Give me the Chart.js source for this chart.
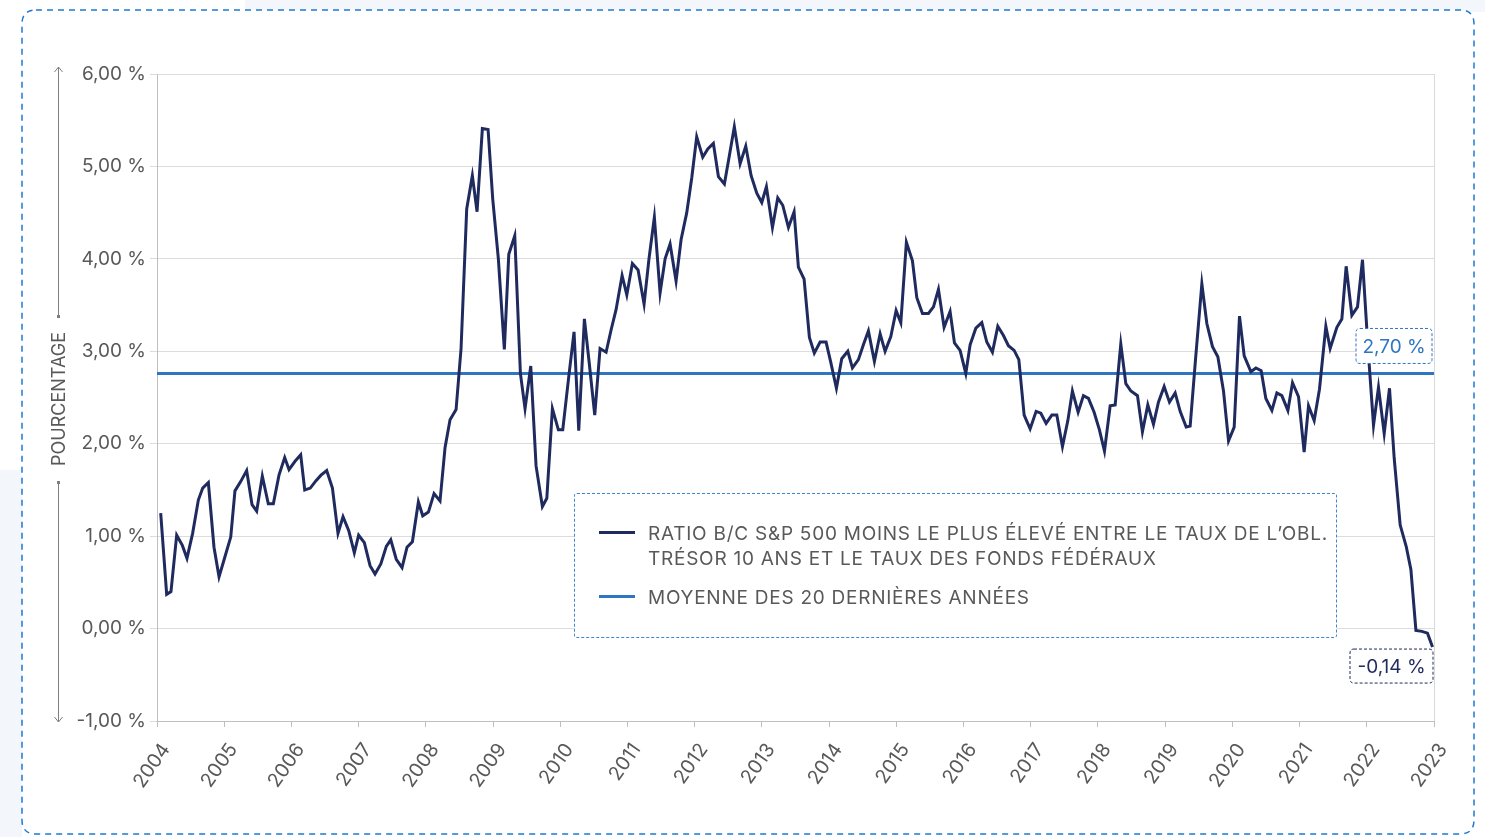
<!DOCTYPE html>
<html lang="fr">
<head>
<meta charset="utf-8">
<script src="https://cdn.jsdelivr.net/npm/chart.js@4/dist/chart.umd.min.js"></script>
<style>
  html, body { margin: 0; padding: 0; background: #fff; }
  body { width: 1485px; height: 837px; position: relative; overflow: hidden; font-family: Inter, "Open Sans", sans-serif; }
  #chart { position: absolute; left: 0; top: 0; }
  #legend {
    position: absolute; left: 574px; top: 493px; width: 763px; height: 145px;
    border: 1px dashed #3f86cf; border-radius: 3px; box-sizing: border-box; background: #fff;
  }
  #legend .sample { position: absolute; left: 24px; width: 36px; height: 3px; }
  #legend .txt { position: absolute; left: 73px; font-size: 19px; letter-spacing: 0.75px; line-height: 25px; color: #595959; white-space: nowrap; }
</style>
</head>
<body>
<canvas id="chart" width="1485" height="837"></canvas>
<div id="legend"></div>
<script>
// series, decimal year / value in %
const dates = [
  2004.055, 2004.144, 2004.208, 2004.293, 2004.377, 2004.446, 2004.530, 2004.615, 2004.680, 2004.764, 2004.848, 2004.923,
  2005.012, 2005.097, 2005.160, 2005.245, 2005.334, 2005.414, 2005.483, 2005.567, 2005.656, 2005.731, 2005.815, 2005.900, 2005.964,
  2006.054, 2006.138, 2006.198, 2006.281, 2006.366, 2006.440, 2006.525, 2006.610, 2006.693, 2006.768, 2006.853, 2006.936,
  2007.000, 2007.085, 2007.170, 2007.244, 2007.330, 2007.412, 2007.478, 2007.560, 2007.646, 2007.720, 2007.800, 2007.889, 2007.954,
  2008.038, 2008.122, 2008.211, 2008.286, 2008.360, 2008.450, 2008.524, 2008.608, 2008.692, 2008.762, 2008.841, 2008.926, 2008.995,
  2009.079, 2009.168, 2009.234, 2009.323, 2009.407, 2009.476, 2009.561, 2009.640, 2009.734, 2009.800, 2009.883, 2009.972,
  2010.037, 2010.121, 2010.205, 2010.275, 2010.359, 2010.433, 2010.513, 2010.592, 2010.682, 2010.756, 2010.830, 2010.920, 2010.990,
  2011.073, 2011.158, 2011.247, 2011.320, 2011.400, 2011.485, 2011.560, 2011.634, 2011.723, 2011.798, 2011.882, 2011.957,
  2012.030, 2012.120, 2012.195, 2012.278, 2012.353, 2012.442, 2012.517, 2012.590, 2012.676, 2012.760, 2012.840, 2012.924, 2012.998,
  2013.067, 2013.157, 2013.236, 2013.310, 2013.395, 2013.479, 2013.543, 2013.628, 2013.707, 2013.780, 2013.866, 2013.955,
  2014.025, 2014.109, 2014.188, 2014.278, 2014.347, 2014.436, 2014.510, 2014.585, 2014.674, 2014.759, 2014.833, 2014.918, 2014.997,
  2015.067, 2015.150, 2015.240, 2015.305, 2015.389, 2015.478, 2015.553, 2015.627, 2015.711, 2015.800, 2015.865, 2015.949,
  2016.034, 2016.098, 2016.183, 2016.272, 2016.346, 2016.430, 2016.510, 2016.594, 2016.668, 2016.753, 2016.823, 2016.902, 2016.991,
  2017.080, 2017.150, 2017.229, 2017.314, 2017.388, 2017.472, 2017.552, 2017.620, 2017.705, 2017.784, 2017.859, 2017.943,
  2018.022, 2018.097, 2018.182, 2018.256, 2018.340, 2018.415, 2018.490, 2018.588, 2018.662, 2018.742, 2018.826, 2018.900, 2018.985,
  2019.064, 2019.149, 2019.223, 2019.313, 2019.372, 2019.456, 2019.546, 2019.620, 2019.704, 2019.784, 2019.868, 2019.943,
  2020.027, 2020.106, 2020.176, 2020.275, 2020.350, 2020.429, 2020.498, 2020.588, 2020.662, 2020.736, 2020.826, 2020.895, 2020.984,
  2021.068, 2021.133, 2021.217, 2021.296, 2021.391, 2021.455, 2021.555, 2021.629, 2021.693, 2021.778, 2021.862, 2021.936,
  2022.016, 2022.100, 2022.174, 2022.259, 2022.338, 2022.408, 2022.497, 2022.586, 2022.656, 2022.731, 2022.820, 2022.903, 2022.978
];
const ratio = [
  1.25, 0.37, 0.40, 1.01, 0.90, 0.76, 1.03, 1.39, 1.52, 1.58, 0.88, 0.56,
  0.78, 0.99, 1.49, 1.59, 1.71, 1.34, 1.27, 1.65, 1.35, 1.35, 1.66, 1.85, 1.72,
  1.81, 1.88, 1.50, 1.52, 1.60, 1.66, 1.71, 1.52, 1.03, 1.21, 1.06, 0.82,
  1.01, 0.93, 0.68, 0.59, 0.70, 0.89, 0.96, 0.75, 0.66, 0.88, 0.94, 1.37, 1.22,
  1.26, 1.46, 1.38, 1.96, 2.26, 2.37, 3.03, 4.54, 4.90, 4.51, 5.41, 5.40, 4.65,
  4.00, 3.02, 4.05, 4.25, 2.76, 2.38, 2.84, 1.76, 1.32, 1.41, 2.38, 2.15,
  2.15, 2.69, 3.21, 2.14, 3.35, 2.86, 2.31, 3.03, 2.99, 3.23, 3.45, 3.82, 3.61,
  3.95, 3.88, 3.51, 4.00, 4.45, 3.63, 4.00, 4.16, 3.76, 4.21, 4.50, 4.88,
  5.32, 5.10, 5.19, 5.25, 4.89, 4.81, 5.12, 5.43, 5.03, 5.22, 4.90, 4.71, 4.61,
  4.78, 4.34, 4.66, 4.58, 4.34, 4.51, 3.91, 3.78, 3.15, 2.98, 3.10, 3.10,
  2.88, 2.60, 2.92, 3.00, 2.82, 2.91, 3.07, 3.22, 2.89, 3.19, 3.00, 3.16, 3.44,
  3.31, 4.18, 3.98, 3.58, 3.41, 3.41, 3.48, 3.67, 3.26, 3.43, 3.09, 3.01,
  2.76, 3.07, 3.25, 3.31, 3.10, 2.99, 3.27, 3.17, 3.06, 3.01, 2.91, 2.31, 2.16,
  2.35, 2.33, 2.22, 2.31, 2.31, 1.97, 2.25, 2.57, 2.34, 2.52, 2.49, 2.34,
  2.15, 1.92, 2.41, 2.42, 3.08, 2.65, 2.57, 2.52, 2.13, 2.42, 2.21, 2.45, 2.62,
  2.45, 2.55, 2.35, 2.18, 2.19, 2.95, 3.73, 3.30, 3.05, 2.94, 2.57, 2.03,
  2.18, 3.38, 2.95, 2.78, 2.82, 2.79, 2.49, 2.36, 2.55, 2.52, 2.36, 2.66, 2.51,
  1.91, 2.41, 2.25, 2.59, 3.27, 3.03, 3.26, 3.35, 3.92, 3.39, 3.48, 3.99,
  3.06, 2.20, 2.61, 2.11, 2.60, 1.84, 1.12, 0.89, 0.64, -0.02, -0.03, -0.05, -0.20
];
const meanValue = 2.76;
const meanLabel = "2,70 %";
const lastLabel = "-0,14 %";
const seriesLabels = [
  ["RATIO B/C S&P 500 MOINS LE PLUS ÉLEVÉ ENTRE LE TAUX DE L’OBL.", "TRÉSOR 10 ANS ET LE TAUX DES FONDS FÉDÉRAUX"],
  ["MOYENNE DES 20 DERNIÈRES ANNÉES"]
];
const yTitle = "POURCENTAGE";
const xMin = 2004, xMax = 2023;
const yMin = -1, yMax = 6;

const NAVY = "#1f2a5e";
const BLUE = "#2e75c2";
const GREY = "#595959";
const FONT = 'Inter, "Open Sans", sans-serif';

// legend (html)
const legend = document.getElementById("legend");
[[NAVY, 37, 27], [BLUE, 101, 91]].forEach((c, i) => {
  const s = document.createElement("div");
  s.className = "sample";
  s.style.top = c[1] + "px";
  s.style.background = c[0];
  legend.appendChild(s);
  const t = document.createElement("div");
  t.className = "txt";
  t.style.top = c[2] + "px";
  t.innerHTML = seriesLabels[i].join("<br>");
  legend.appendChild(t);
});

function roundRect(ctx, x, y, w, h, r) {
  ctx.beginPath();
  ctx.moveTo(x + r, y);
  ctx.lineTo(x + w - r, y);
  ctx.quadraticCurveTo(x + w, y, x + w, y + r);
  ctx.lineTo(x + w, y + h - r);
  ctx.quadraticCurveTo(x + w, y + h, x + w - r, y + h);
  ctx.lineTo(x + r, y + h);
  ctx.quadraticCurveTo(x, y + h, x, y + h - r);
  ctx.lineTo(x, y + r);
  ctx.quadraticCurveTo(x, y, x + r, y);
  ctx.closePath();
}

const framePlugin = {
  id: "frame",
  beforeDraw(chart) {
    const ctx = chart.ctx;
    ctx.save();
    // pale backdrop outside the card
    ctx.fillStyle = "#f3f6fb";
    ctx.fillRect(245, 0, 1240, 12);
    ctx.fillRect(0, 470, 22, 367);
    roundRect(ctx, 22, 10, 1452, 824, 14);
    ctx.fillStyle = "#fff";
    ctx.fill();
    ctx.setLineDash([6, 5]);
    ctx.lineWidth = 1.5;
    ctx.strokeStyle = "#1f7ad4";
    ctx.stroke();
    ctx.restore();
  },
  afterDraw(chart) {
    const ctx = chart.ctx;
    const a = chart.chartArea;
    const y = chart.scales.y;
    ctx.save();
    // right border of plot
    ctx.strokeStyle = "#d9d9d9";
    ctx.lineWidth = 1;
    ctx.beginPath();
    ctx.moveTo(a.right + 0.5, a.top);
    ctx.lineTo(a.right + 0.5, a.bottom);
    ctx.stroke();

    // axis title with arrows
    const ax = 58.5;
    ctx.strokeStyle = "#7f7f7f";
    ctx.fillStyle = "#7f7f7f";
    ctx.lineWidth = 1;
    ctx.beginPath();
    ctx.moveTo(ax, a.top - 7); ctx.lineTo(ax, 317);
    ctx.moveTo(ax - 4, a.top - 2); ctx.lineTo(ax, a.top - 7); ctx.lineTo(ax + 4, a.top - 2);
    ctx.moveTo(ax, 482); ctx.lineTo(ax, a.bottom + 1);
    ctx.moveTo(ax - 4, a.bottom - 4); ctx.lineTo(ax, a.bottom + 1); ctx.lineTo(ax + 4, a.bottom - 4);
    ctx.stroke();
    ctx.fillRect(ax - 1.5, 315, 3, 3);
    ctx.fillRect(ax - 1.5, 481, 3, 3);
    ctx.translate(ax + 1, 399);
    ctx.rotate(-Math.PI / 2);
    ctx.font = "18px " + FONT;
    ctx.fillStyle = GREY;
    ctx.textAlign = "center";
    ctx.textBaseline = "middle";
    ctx.fillText(yTitle, 0, 0);
    ctx.restore();

    // value tags
    const tag = (text, color, right, top, w, h) => {
      ctx.save();
      roundRect(ctx, right - w, top, w, h, 4);
      ctx.fillStyle = "#fff";
      ctx.fill();
      ctx.setLineDash([3, 2]);
      ctx.lineWidth = 1;
      ctx.strokeStyle = color;
      ctx.stroke();
      ctx.font = "19px " + FONT;
      ctx.fillStyle = color;
      ctx.textAlign = "center";
      ctx.textBaseline = "middle";
      ctx.fillText(text, right - w / 2, top + h / 2 + 1);
      ctx.restore();
    };
    tag(meanLabel, BLUE, a.right - 2, y.getPixelForValue(meanValue) - 45, 76, 35);
    tag(lastLabel, NAVY, a.right - 1, y.getPixelForValue(ratio[ratio.length - 1]) + 2, 83, 34);
  }
};

new Chart(document.getElementById("chart"), {
  type: "line",
  data: {
    datasets: [
      {
        label: seriesLabels[0].join(" "),
        data: dates.map((d, i) => ({ x: d, y: ratio[i] })),
        borderColor: NAVY,
        borderWidth: 3,
        pointRadius: 0,
        tension: 0,
        order: 1
      },
      {
        label: seriesLabels[1][0],
        data: [{ x: xMin, y: meanValue }, { x: xMax, y: meanValue }],
        borderColor: BLUE,
        borderWidth: 3,
        pointRadius: 0,
        order: 2
      }
    ]
  },
  options: {
    responsive: false,
    animation: false,
    layout: { padding: { top: 74, right: 51, left: 0, bottom: 0 } },
    plugins: { legend: { display: false }, tooltip: { enabled: false } },
    scales: {
      x: {
        type: "linear",
        min: xMin,
        max: xMax,
        afterFit(s) { s.height = 116; },
        afterBuildTicks(s) {
          s.ticks = [];
          for (let v = xMin; v <= xMax; v++) s.ticks.push({ value: v });
        },
        ticks: {
          callback: v => String(v),
          minRotation: 55,
          maxRotation: 55,
          autoSkip: false,
          padding: 12,
          labelOffset: 9,
          color: GREY,
          font: { family: FONT, size: 19.5 }
        },
        grid: { drawOnChartArea: false, drawTicks: true, tickLength: 6, color: "#bfbfbf" },
        border: { display: true, color: "#bfbfbf" }
      },
      y: {
        min: yMin,
        max: yMax,
        afterFit(s) { s.width = 157; },
        ticks: {
          stepSize: 1,
          padding: 4,
          color: GREY,
          font: { family: FONT, size: 19 },
          callback: v => v.toFixed(2).replace(".", ",") + " %"
        },
        grid: { color: "#dcdcdc", tickLength: 7, drawTicks: true },
        border: { display: true, color: "#bfbfbf" }
      }
    }
  },
  plugins: [framePlugin]
});
</script>
</body>
</html>
